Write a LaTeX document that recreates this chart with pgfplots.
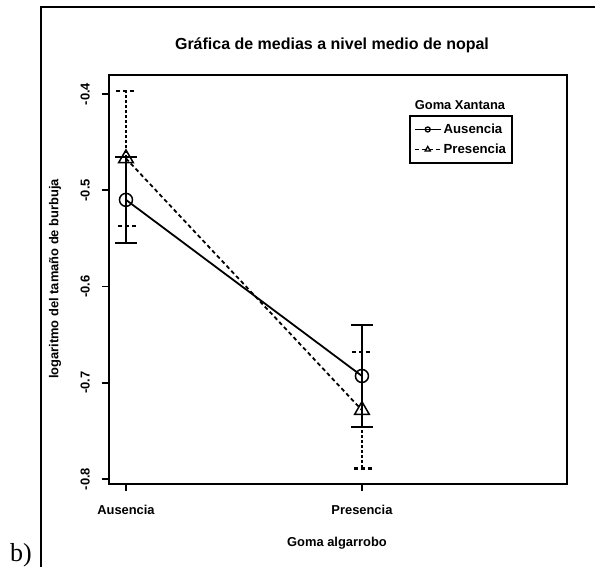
\documentclass[border=0pt]{standalone}
\usepackage{fontspec}
\setmainfont{Liberation Sans}
\newfontfamily\timesfont{Liberation Serif}
\usepackage{pgfplots}
\pgfplotsset{compat=1.18}
\pgfplotstableread{
x y err
1 -0.510 0.0445
2 -0.693 0.053
}\ausencia
\pgfplotstableread{
x y err
1 -0.467 0.070
2 -0.7285 0.0605
}\presencia
\begin{document}
\begin{tikzpicture}[x=1pt,y=1pt]
\useasboundingbox (0,0) rectangle (595,566);
\clip (0,0) rectangle (595,566);
\fill[white] (0,0) rectangle (595,566);
\draw[line width=1.4pt] (41,-5) -- (41,559) -- (600,559);
\node[font=\timesfont\fontsize{26}{26}\selectfont, anchor=base west, inner sep=0pt] at (10,5) {b)};
\node[font=\bfseries\fontsize{16}{16}\selectfont] at (332,521) {Gráfica de medias a nivel medio de nopal};
\node[font=\bfseries\fontsize{12.9}{14}\selectfont, rotate=90] at (55,287) {logaritmo del tamaño de burbuja};
\node[font=\bfseries\fontsize{12.9}{14}\selectfont] at (337,23) {Goma algarrobo};
\node[font=\bfseries\fontsize{12.9}{14}\selectfont] at (460,461) {Goma Xantana};
\begin{axis}[
  at={(109pt,82pt)}, anchor=south west, scale only axis,
  width=458pt, height=409pt,
  xmin=0.928, xmax=2.869, ymin=-0.8052, ymax=-0.3803,
  xtick={1,2}, xticklabels={Ausencia,Presencia},
  ytick={-0.8,-0.7,-0.6,-0.5,-0.4},
  yticklabels={-0.8,-0.7,-0.6,-0.5,-0.4},
  tick pos=left, tick align=outside, major tick length=7pt,
  axis line style={line width=1.7pt},
  tick style={line width=1.6pt, black},
  tick label style={font=\bfseries\fontsize{12.9}{14}\selectfont},
  yticklabel style={rotate=90, anchor=south, inner sep=0pt},
  xticklabel style={anchor=north, inner sep=0pt},
  yticklabel shift=12pt,
  xticklabel shift=14pt,
  clip=false,
  legend cell align=left,
  legend image code/.code={\draw[mark repeat=2,mark phase=2,#1] plot coordinates {(0pt,0pt) (13pt,0pt) (26pt,0pt)};},
  legend style={at={(0.655,0.902)}, anchor=north west, draw=black, line width=1.7pt,
    font=\bfseries\fontsize{13.2}{14}\selectfont, row sep=5pt, inner xsep=4pt, inner ysep=6pt,
    /tikz/every even column/.append style={column sep=7pt}},
]
\addlegendimage{solid, line width=1.8pt, mark=o, mark size=2.5pt, mark options={line width=1.3pt}}
\addlegendentry{Ausencia}
\addlegendimage{dash pattern=on 4pt off 3pt, line width=1.8pt, mark=triangle, mark size=3pt, mark options={solid, line width=1.3pt}}
\addlegendentry{Presencia}
\addplot[forget plot, black, solid, line width=1.8pt, mark=o, mark size=6.5pt, mark options={solid, line width=1.5pt},
  error bars/.cd, y dir=both, y explicit, error mark=|,
  error bar style={line width=2.2pt, solid},
  error mark options={mark size=11pt, line width=2.2pt, solid}]
  table[x=x, y=y, y error=err] {\ausencia};
\addplot[forget plot, black, dash pattern=on 4pt off 3pt, line width=1.8pt, mark=triangle, mark size=8.5pt, mark options={solid, line width=1.5pt},
  error bars/.cd, y dir=both, y explicit, error mark=|,
  error bar style={line width=2.2pt, dash pattern=on 3pt off 2pt},
  error mark options={mark size=10pt, line width=2.2pt, dash pattern=on 4pt off 3pt}]
  table[x=x, y=y, y error=err] {\presencia};
\end{axis}
\end{tikzpicture}
\end{document}
